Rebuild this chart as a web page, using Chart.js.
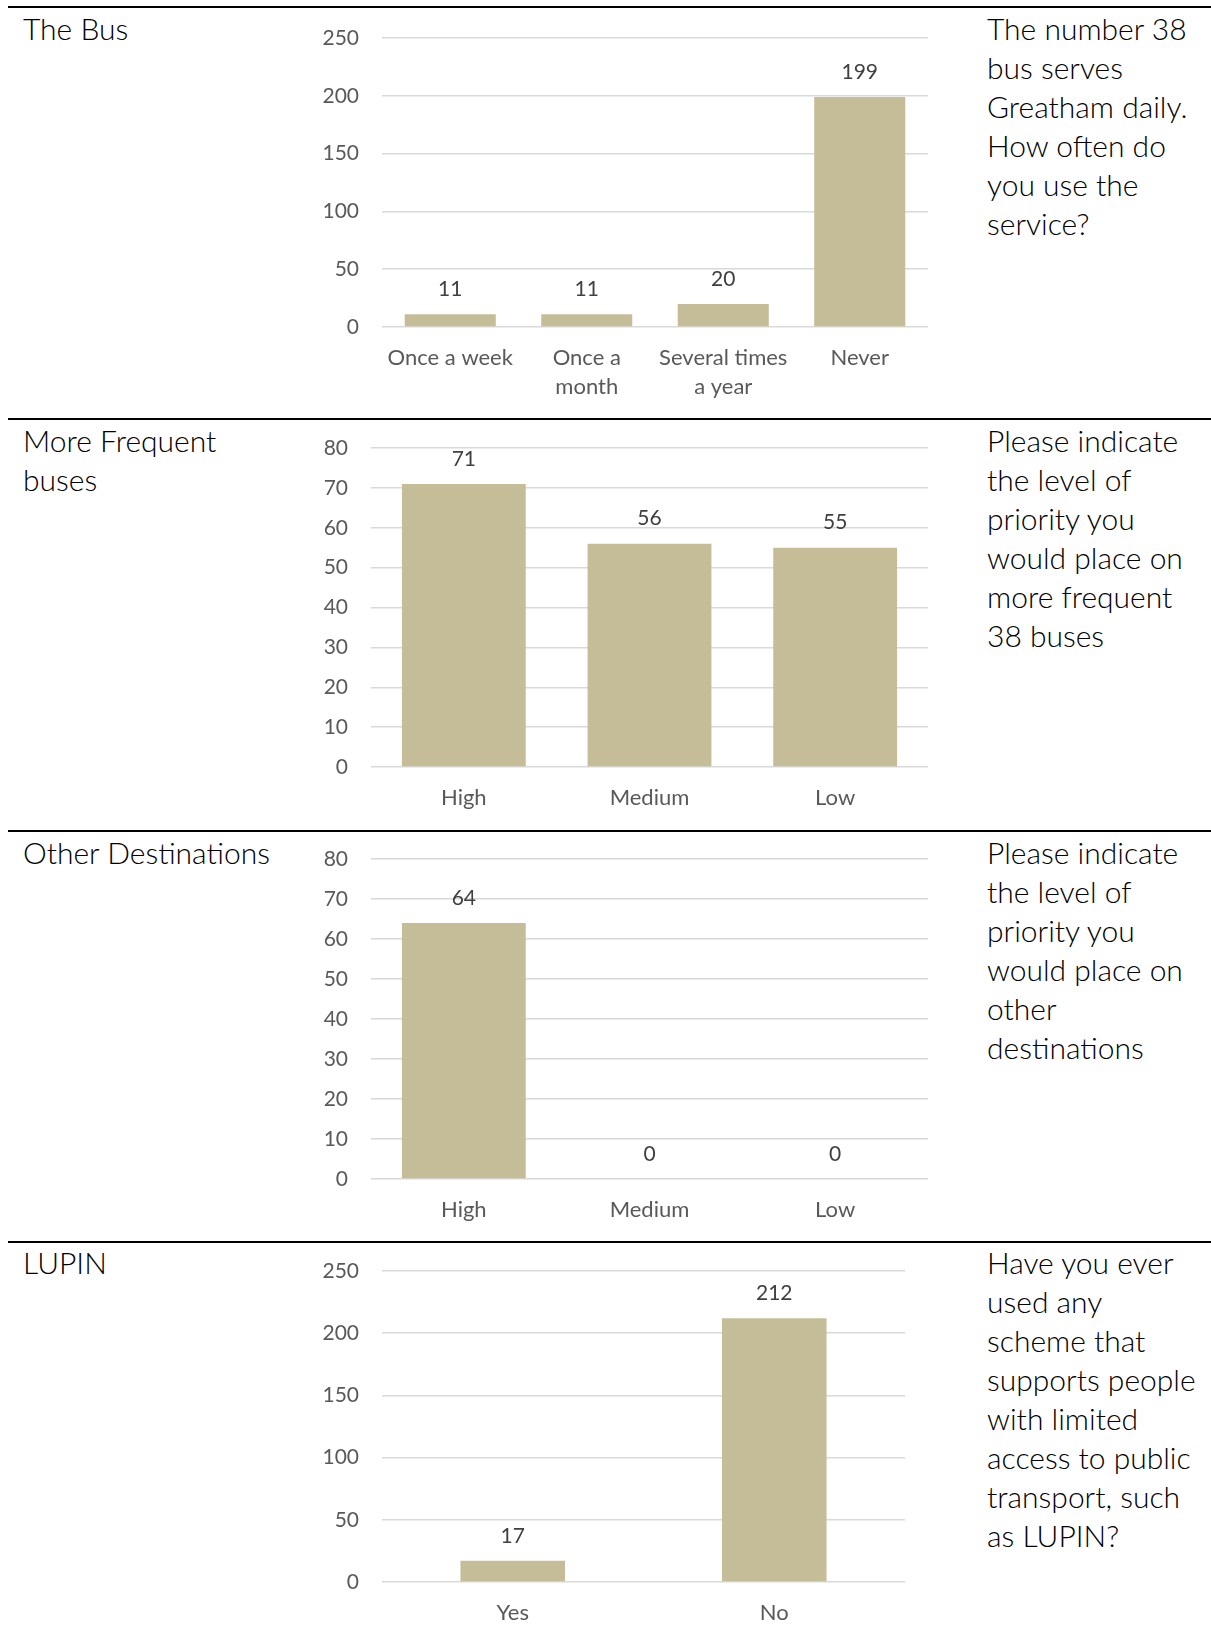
<!DOCTYPE html>
<html>
<head>
<meta charset="utf-8">
<script src="https://cdn.jsdelivr.net/npm/chart.js@4.4.1/dist/chart.umd.min.js"></script>
<style>
  html, body { margin: 0; padding: 0; background: #fff; }
  body { width: 1211px; height: 1639px; position: relative; overflow: hidden; font-family: Lato, "Open Sans", sans-serif; }
  .rule { position: absolute; left: 8px; right: 0; height: 2px; background: #000; }
  .title, .question { position: absolute; font-weight: 300; font-size: 30px; line-height: 39px; color: #000; white-space: nowrap; }
  .title { left: 23px; }
  .question { left: 987px; }
  canvas { position: absolute; }
</style>
</head>
<body>
<div class="rule" style="top:6px"></div>
<div class="rule" style="top:418px"></div>
<div class="rule" style="top:830px"></div>
<div class="rule" style="top:1241px"></div>

<div class="title" style="top:9px">The Bus</div>
<div class="question" style="top:9px">The number 38<br>bus serves<br>Greatham daily.<br>How often do<br>you use the<br>service?</div>

<div class="title" style="top:421px">More Frequent<br>buses</div>
<div class="question" style="top:421px">Please indicate<br>the level of<br>priority you<br>would place on<br>more frequent<br>38 buses</div>

<div class="title" style="top:833px">Other Destinations</div>
<div class="question" style="top:833px">Please indicate<br>the level of<br>priority you<br>would place on<br>other<br>destinations</div>

<div class="title" style="top:1243px">LUPIN</div>
<div class="question" style="top:1243px">Have you ever<br>used any<br>scheme that<br>supports people<br>with limited<br>access to public<br>transport, such<br>as LUPIN?</div>

<canvas id="c1" width="650" height="402" style="left:290px;top:10px"></canvas>
<canvas id="c2" width="650" height="400" style="left:290px;top:422px"></canvas>
<canvas id="c3" width="650" height="400" style="left:290px;top:834px"></canvas>
<canvas id="c4" width="650" height="395" style="left:290px;top:1244px"></canvas>

<script>
// ---- Data ----
const busCategories = ["Once a week", ["Once a", "month"], ["Several times", "a year"], "Never"];
const busValues = [11, 11, 20, 199];
const busAxisMax = 250;
const busAxisStep = 50;

const priorityCategories = ["High", "Medium", "Low"];
const frequentBusValues = [71, 56, 55];
const otherDestinationValues = [64, 0, 0];
const priorityAxisMax = 80;
const priorityAxisStep = 10;

const lupinCategories = ["Yes", "No"];
const lupinValues = [17, 212];
const lupinAxisMax = 250;
const lupinAxisStep = 50;

// ---- Styling ----
const BAR_COLOR = "#C4BD97";
const GRID_COLOR = "#D9D9D9";
const TICK_COLOR = "#595959";
const LABEL_COLOR = "#404040";
Chart.defaults.font.family = "Lato, 'Open Sans', sans-serif";

const valueLabels = {
  id: "valueLabels",
  afterDatasetsDraw(chart) {
    const ctx = chart.ctx;
    const meta = chart.getDatasetMeta(0);
    const values = chart.data.datasets[0].data;
    ctx.save();
    ctx.fillStyle = LABEL_COLOR;
    ctx.font = "21px Lato, 'Open Sans', sans-serif";
    ctx.textAlign = "center";
    ctx.textBaseline = "middle";
    meta.data.forEach((bar, i) => {
      ctx.fillText(String(values[i]), bar.x, bar.y - 25);
    });
    ctx.restore();
  }
};

function makeChart(id, labels, values, max, step, o) {
  new Chart(document.getElementById(id), {
    type: "bar",
    data: {
      labels: labels,
      datasets: [{
        data: values,
        backgroundColor: BAR_COLOR,
        borderWidth: 0,
        categoryPercentage: 1,
        barPercentage: o.barPct
      }]
    },
    options: {
      responsive: false,
      animation: false,
      events: [],
      layout: { padding: { top: o.padTop, right: o.padRight, left: 0, bottom: 0 } },
      plugins: { legend: { display: false }, tooltip: { enabled: false } },
      scales: {
        x: {
          grid: { display: false, drawTicks: false },
          border: { display: false },
          ticks: { color: TICK_COLOR, font: { size: 22, lineHeight: 1.32 }, padding: 16, maxRotation: 0, autoSkip: false },
          afterFit(scale) { scale.height = o.xHeight; scale.paddingLeft = 0; scale.paddingRight = 0; }
        },
        y: {
          min: 0,
          max: max,
          grid: { color: GRID_COLOR, lineWidth: 1.5, drawTicks: false },
          border: { display: false },
          ticks: { stepSize: step, color: TICK_COLOR, font: { size: 21 }, padding: 23 },
          afterFit(scale) { scale.width = o.yWidth; scale.paddingTop = 0; scale.paddingBottom = 0; }
        }
      }
    },
    plugins: [valueLabels]
  });
}

makeChart("c1", busCategories, busValues, busAxisMax, busAxisStep,
  { barPct: 0.667, padTop: 28, padRight: 12, xHeight: 85, yWidth: 92 });
makeChart("c2", priorityCategories, frequentBusValues, priorityAxisMax, priorityAxisStep,
  { barPct: 0.667, padTop: 26, padRight: 12, xHeight: 55, yWidth: 81 });
makeChart("c3", priorityCategories, otherDestinationValues, priorityAxisMax, priorityAxisStep,
  { barPct: 0.667, padTop: 25, padRight: 12, xHeight: 55, yWidth: 81 });
makeChart("c4", lupinCategories, lupinValues, lupinAxisMax, lupinAxisStep,
  { barPct: 0.4, padTop: 27, padRight: 35, xHeight: 57, yWidth: 92 });
</script>
</body>
</html>
